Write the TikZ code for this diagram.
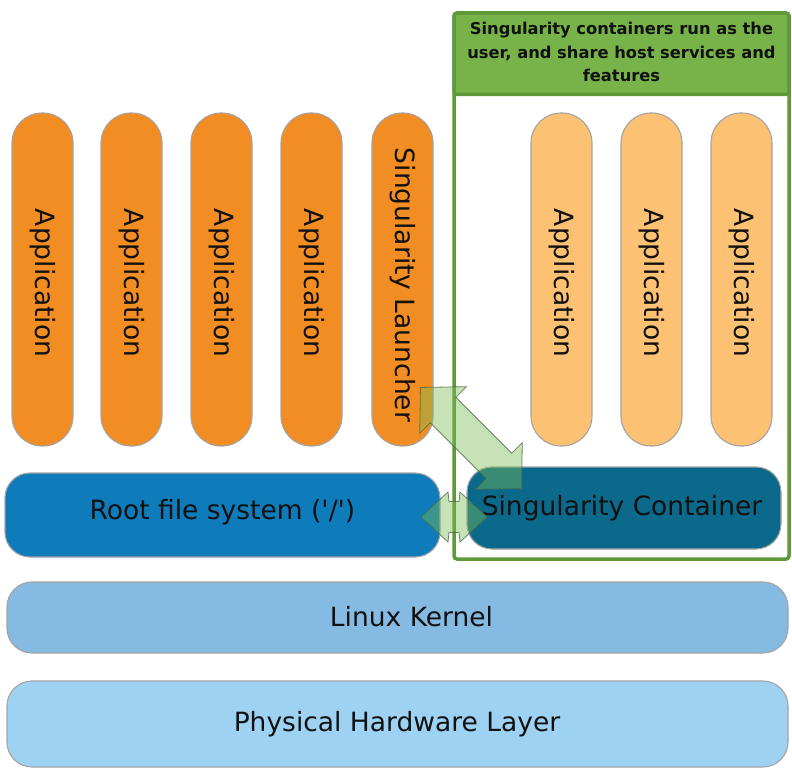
\documentclass[tikz,border=0pt]{standalone}
\usepackage{fontspec}
\setmainfont{DejaVu Sans}
\definecolor{appO}{HTML}{F18D22}
\definecolor{appL}{HTML}{FDC173}
\definecolor{rootB}{HTML}{0E7BBA}
\definecolor{contB}{HTML}{0B6A8B}
\definecolor{kernB}{HTML}{85BAE3}
\definecolor{hwB}{HTML}{9DD2F3}
\definecolor{grnBand}{HTML}{77B348}
\definecolor{grnLine}{HTML}{5E9A3A}
\definecolor{arrG}{HTML}{7ABC53}
\definecolor{arrLine}{HTML}{4A6B45}
\definecolor{edgeG}{HTML}{A3A3A3}
\definecolor{txt}{HTML}{111111}
\begin{document}
\begin{tikzpicture}[x=1pt,y=1pt,
  pill/.style={draw=edgeG, line width=1.1pt, rounded corners=30pt,
    minimum width=61pt, minimum height=333pt, inner sep=0pt},
  layer/.style={draw=edgeG, line width=1.1pt, rounded corners=25pt, inner sep=0pt},
  vtext/.style={rotate=-90, text=txt, font=\fontsize{26.5}{30}\selectfont, inner sep=0pt},
  htext/.style={anchor=base, text=txt, font=\fontsize{26.5}{30}\selectfont, inner sep=0pt},
  blockarrow/.style={fill=arrG, fill opacity=0.42, draw=arrLine, draw opacity=0.8,
    line width=0.8pt, line join=miter}]
\useasboundingbox (0,0) rectangle (792,-773);
\fill[white] (0,0) rectangle (792,-773);

% host applications
\foreach \x/\n in {42.5/a1,131.5/a2,221.5/a3,311.5/a4}{
  \node[pill, fill=appO] (\n) at (\x,-279.5) {};
  \node[vtext] at (\x,-283) {Application};
}
\node[pill, fill=appO] (launcher) at (402.5,-279.5) {};
\node[vtext] at (402.5,-285) {Singularity Launcher};

% container box
\node[fill=grnBand, draw=grnLine, line width=3.5pt, rounded corners=3pt,
  minimum width=335pt, minimum height=81.5pt, inner sep=0pt] (band) at (621.5,-53.75) {};
\node[draw=grnLine, line width=3.5pt, rounded corners=3pt,
  minimum width=335pt, minimum height=546pt, inner sep=0pt] (cbox) at (621.5,-286) {};
\node[align=center, text=txt, font=\bfseries\fontsize{16.3}{23.3}\selectfont, inner sep=0pt]
  (title) at (621.5,-52) {Singularity containers run as the\\user, and share host services and\\features};

% container applications
\foreach \x/\n in {561.5/c1,651.5/c2,741.5/c3}{
  \node[pill, fill=appL] (\n) at (\x,-279.5) {};
  \node[vtext] at (\x,-283) {Application};
}

% layers
\node[layer, fill=rootB, minimum width=435pt, minimum height=84pt] (root) at (222.5,-515) {};
\node[htext] at (222.5,-519.5) {Root file system (\textquotesingle/\textquotesingle)};
\node[layer, fill=contB, minimum width=314pt, minimum height=82pt] (cont) at (624,-508) {};
\node[htext] at (622,-515) {Singularity Container};
\node[layer, fill=kernB, minimum width=781pt, minimum height=71pt] (kern) at (397.5,-617.5) {};
\node[htext] at (411.5,-626) {Linux Kernel};
\node[layer, fill=hwB, minimum width=781pt, minimum height=86pt] (hw) at (397.5,-724) {};
\node[htext] at (397,-731.7) {Physical Hardware Layer};

% block arrows
\coordinate (dmid) at (471,-438);
\begin{scope}[shift={(dmid)}, rotate=-45]
  \draw[blockarrow] (-71.5,0) -- (-39.5,33) -- (-39.5,18) -- (39.5,18) -- (39.5,33)
    -- (71.5,0) -- (39.5,-33) -- (39.5,-18) -- (-39.5,-18) -- (-39.5,-33) -- cycle;
\end{scope}
\coordinate (hmid) at (454,-517);
\begin{scope}[shift={(hmid)}]
  \draw[blockarrow] (-33,0) -- (-6,25) -- (-5,15.5) -- (5,15.5) -- (6,25)
    -- (33,0) -- (6,-25) -- (5,-15.5) -- (-5,-15.5) -- (-6,-25) -- cycle;
\end{scope}
\end{tikzpicture}
\end{document}
